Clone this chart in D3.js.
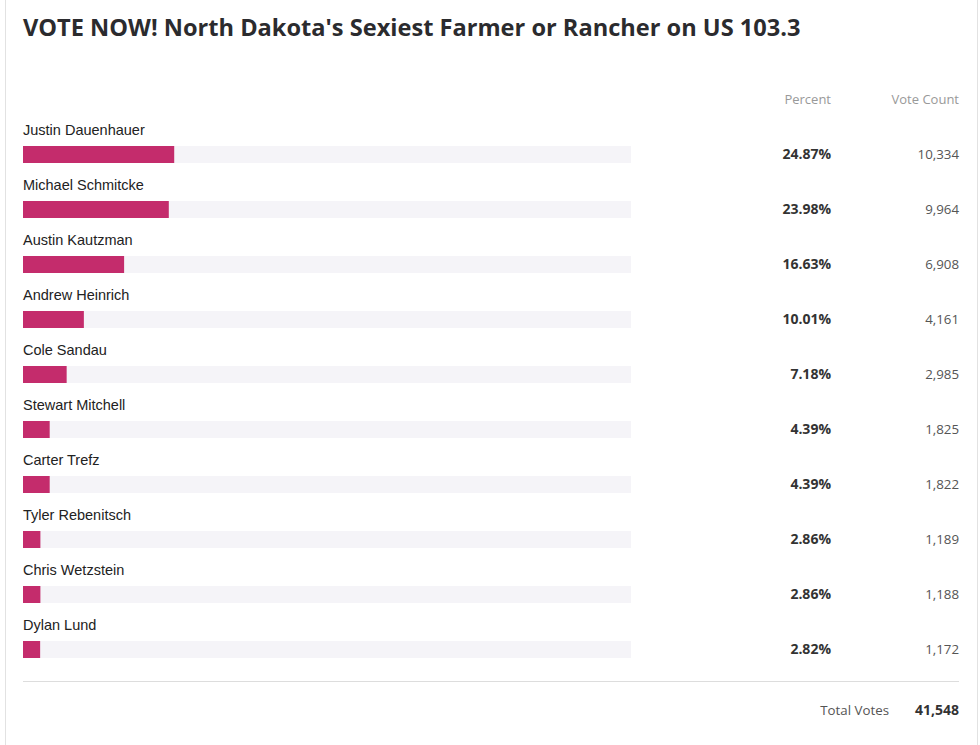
<!DOCTYPE html>
<html lang="en">
<head>
    <meta charset="UTF-8">
    <title>VOTE NOW! North Dakota's Sexiest Farmer or Rancher</title>
    <script src="https://d3js.org/d3.v7.min.js"></script>
    <style>
        body { margin: 0; background-color: #fff; }
    </style>
</head>
<body>
    <svg width="980" height="745" id="poll"></svg>
    <script>
        // poll results
        const names = ["Justin Dauenhauer", "Michael Schmitcke", "Austin Kautzman", "Andrew Heinrich",
            "Cole Sandau", "Stewart Mitchell", "Carter Trefz", "Tyler Rebenitsch", "Chris Wetzstein", "Dylan Lund"];
        const percents = [24.87, 23.98, 16.63, 10.01, 7.18, 4.39, 4.39, 2.86, 2.86, 2.82];
        const votes = [10334, 9964, 6908, 4161, 2985, 1825, 1822, 1189, 1188, 1172];
        const totalVotes = 41548;

        const svg = d3.select("#poll");
        const fmt = d3.format(",");

        // card borders
        svg.append("line").attr("x1", 5.5).attr("x2", 5.5).attr("y1", 0).attr("y2", 745)
            .attr("stroke", "#e2e2e2");
        svg.append("line").attr("x1", 977.5).attr("x2", 977.5).attr("y1", 0).attr("y2", 745)
            .attr("stroke", "#e2e2e2");

        svg.append("text")
            .attr("x", 23).attr("y", 36)
            .attr("font-family", "Open Sans").attr("font-weight", "bold")
            .attr("font-size", 23.6).attr("fill", "#2b2b2e")
            .text("VOTE NOW! North Dakota's Sexiest Farmer or Rancher on US 103.3");

        // column headers
        svg.append("text").attr("x", 831).attr("y", 104).attr("text-anchor", "end")
            .attr("font-family", "Open Sans").attr("font-size", 13).attr("fill", "#999")
            .text("Percent");
        svg.append("text").attr("x", 959).attr("y", 104).attr("text-anchor", "end")
            .attr("font-family", "Open Sans").attr("font-size", 13).attr("fill", "#999")
            .text("Vote Count");

        const x = d3.scaleLinear().domain([0, 100]).range([23, 631]);
        const y = d3.scaleBand().domain(names).range([118, 668]);

        const rows = svg.selectAll("g.row")
            .data(names)
            .join("g")
            .attr("class", "row")
            .attr("transform", d => `translate(0,${y(d)})`);

        rows.append("text")
            .attr("x", 23).attr("y", 17)
            .attr("font-family", "Liberation Sans, Arial").attr("font-size", 14.5).attr("fill", "#222")
            .text(d => d);

        rows.append("rect")
            .attr("x", x(0)).attr("y", 28)
            .attr("width", x(100) - x(0)).attr("height", 17)
            .attr("fill", "#f5f4f8");

        rows.append("rect")
            .attr("x", x(0)).attr("y", 28)
            .attr("width", (d, i) => x(percents[i]) - x(0)).attr("height", 17)
            .attr("fill", "#c42c6c");

        rows.append("text")
            .attr("x", 831).attr("y", 41).attr("text-anchor", "end")
            .attr("font-family", "Open Sans").attr("font-weight", "bold")
            .attr("font-size", 14).attr("fill", "#333")
            .text((d, i) => percents[i].toFixed(2) + "%");

        rows.append("text")
            .attr("x", 959).attr("y", 41).attr("text-anchor", "end")
            .attr("font-family", "Open Sans").attr("font-size", 13.3).attr("fill", "#555")
            .text((d, i) => fmt(votes[i]));

        // footer
        svg.append("line").attr("x1", 23).attr("x2", 959).attr("y1", 681.5).attr("y2", 681.5)
            .attr("stroke", "#ddd");
        svg.append("text").attr("x", 889).attr("y", 715).attr("text-anchor", "end")
            .attr("font-family", "Open Sans").attr("font-size", 13.3).attr("fill", "#555")
            .text("Total Votes");
        svg.append("text").attr("x", 959).attr("y", 715).attr("text-anchor", "end")
            .attr("font-family", "Open Sans").attr("font-weight", "bold")
            .attr("font-size", 14).attr("fill", "#333")
            .text(fmt(totalVotes));
    </script>
</body>
</html>
